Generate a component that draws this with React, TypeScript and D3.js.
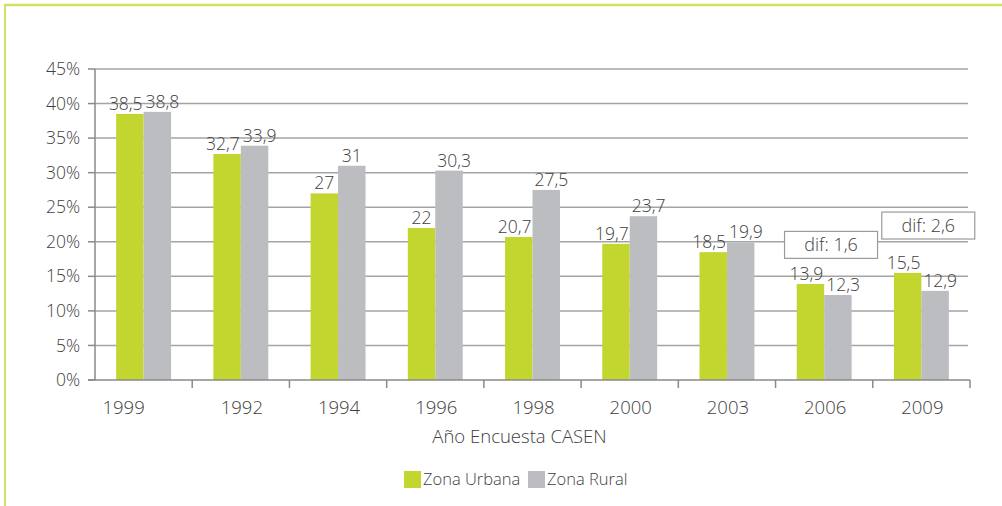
import * as d3 from "d3";
import React from "react";

const years = ["1999", "1992", "1994", "1996", "1998", "2000", "2003", "2006", "2009"];
const urbana = [38.5, 32.7, 27, 22, 20.7, 19.7, 18.5, 13.9, 15.5];
const rural = [38.8, 33.9, 31, 30.3, 27.5, 23.7, 19.9, 12.3, 12.9];
const yTicks = [0, 5, 10, 15, 20, 25, 30, 35, 40, 45];
const seriesNames = ["Zona Urbana", "Zona Rural"];
const annotations = [
  { year: "2006", text: "dif: 1,6", top: 21.5, bottom: 17.6 },
  { year: "2009", text: "dif: 2,6", top: 24.3, bottom: 20.4 },
];

const GREEN = "#c2d62f";
const GRAY = "#bcbdc1";
const TEXT = "#404040";
const FONT = "'Open Sans', 'Noto Sans', sans-serif";

const fmt = (v: number) => String(v).replace(".", ",");

export default function App() {
  const W = 1002;
  const H = 506;
  const margin = { left: 95, right: 32, top: 69, bottom: 126 };

  const x = d3.scaleBand<string>().domain(years).range([margin.left, W - margin.right]).paddingInner(0);
  const y = d3.scaleLinear().domain([0, 45]).range([H - margin.bottom, margin.top]);
  const sub = d3.scaleBand<string>().domain(["u", "r"]).range([0, x.bandwidth()]).paddingOuter(0.77);

  const x0 = margin.left;
  const x1 = W - margin.right;
  const baseY = y(0);

  return (
    <svg width={W} height={H} style={{ position: "absolute", left: 0, top: 0 }} fontFamily={FONT}>
      {/* frame */}
      <line x1={4} x2={W} y1={5} y2={5} stroke="#d3e062" strokeWidth={2.5} />
      <line x1={5} x2={5} y1={4} y2={H} stroke="#d3e062" strokeWidth={2} />

      {/* gridlines + y ticks */}
      {yTicks.map((t) => (
        <g key={t}>
          {t > 0 && <line x1={x0} x2={x1 - 2} y1={y(t)} y2={y(t)} stroke="#a4a4a4" strokeWidth={1.5} />}
          <line x1={x0 - 7} x2={x0} y1={y(t)} y2={y(t)} stroke="#8a8a8a" strokeWidth={1.5} />
          <text x={x0 - 15} y={y(t)} dy="0.35em" textAnchor="end" fontSize={17.5} fill={TEXT} fontWeight={300}>
            {t}%
          </text>
        </g>
      ))}

      {/* bars */}
      {years.map((yr, i) => {
        const bx = x(yr)!;
        const gx = bx + sub("u")!;
        const rx = bx + sub("r")!;
        const bw = sub.bandwidth();
        const uLab = fmt(urbana[i]);
        const rLab = fmt(rural[i]);
        return (
          <g key={yr}>
            <rect x={gx} y={y(urbana[i])} width={bw} height={baseY - y(urbana[i])} fill={GREEN} />
            <rect x={rx} y={y(rural[i])} width={bw} height={baseY - y(rural[i])} fill={GRAY} />
            <text
              x={uLab.length > 2 ? gx + bw - 1 : gx + bw / 2}
              y={y(urbana[i]) - 4}
              textAnchor={uLab.length > 2 ? "end" : "middle"}
              fontSize={17.5}
              fill={TEXT}
              fontWeight={300}
            >
              {uLab}
            </text>
            <text
              x={rLab.length > 2 ? rx + 2 : rx + bw / 2}
              y={y(rural[i]) - 4}
              textAnchor={rLab.length > 2 ? "start" : "middle"}
              fontSize={17.5}
              fill={TEXT}
              fontWeight={300}
            >
              {rLab}
            </text>
          </g>
        );
      })}

      {/* x axis */}
      <line x1={x0 - 7} x2={x1} y1={baseY} y2={baseY} stroke="#8a8a8a" strokeWidth={1.5} />
      <line x1={x0} x2={x0} y1={margin.top} y2={baseY} stroke="#8a8a8a" strokeWidth={1.5} />
      {years.map((yr, i) => (
        <g key={"t" + yr}>
          <line x1={x(yr)! + x.bandwidth()} x2={x(yr)! + x.bandwidth()} y1={baseY} y2={baseY + 8} stroke="#8a8a8a" strokeWidth={1.5} />
          <text
            x={x(yr)! + x.bandwidth() / 2 + (i === 0 ? -20 : 1)}
            y={baseY + 34}
            textAnchor="middle"
            fontSize={18.5}
            fill={TEXT}
            fontWeight={300}
          >
            {yr}
          </text>
        </g>
      ))}
      <text x={(x0 + x1) / 2 - 13} y={baseY + 63} textAnchor="middle" fontSize={18.5} fill={TEXT} fontWeight={300}>
        Año Encuesta CASEN
      </text>

      {/* annotations */}
      {annotations.map((a) => {
        const bx = x(a.year)! + 9;
        const top = y(a.top);
        const bot = y(a.bottom);
        return (
          <g key={a.text}>
            <rect x={bx} y={top} width={93} height={bot - top} fill="#fff" stroke="#9a9a9a" strokeWidth={1.2} />
            <text x={bx + 46.5} y={(top + bot) / 2} dy="0.35em" textAnchor="middle" fontSize={18} fill={TEXT} fontWeight={300}>
              {a.text}
            </text>
          </g>
        );
      })}

      {/* legend */}
      {seriesNames.map((n, i) => {
        const lx = i === 0 ? 404 : 528;
        return (
          <g key={n} transform={`translate(${lx},471)`}>
            <rect width={17} height={17} fill={i === 0 ? GREEN : GRAY} />
            <text x={19} y={8.5} dy="0.35em" fontSize={16.5} fill={TEXT} fontWeight={300}>
              {n}
            </text>
          </g>
        );
      })}
    </svg>
  );
}
